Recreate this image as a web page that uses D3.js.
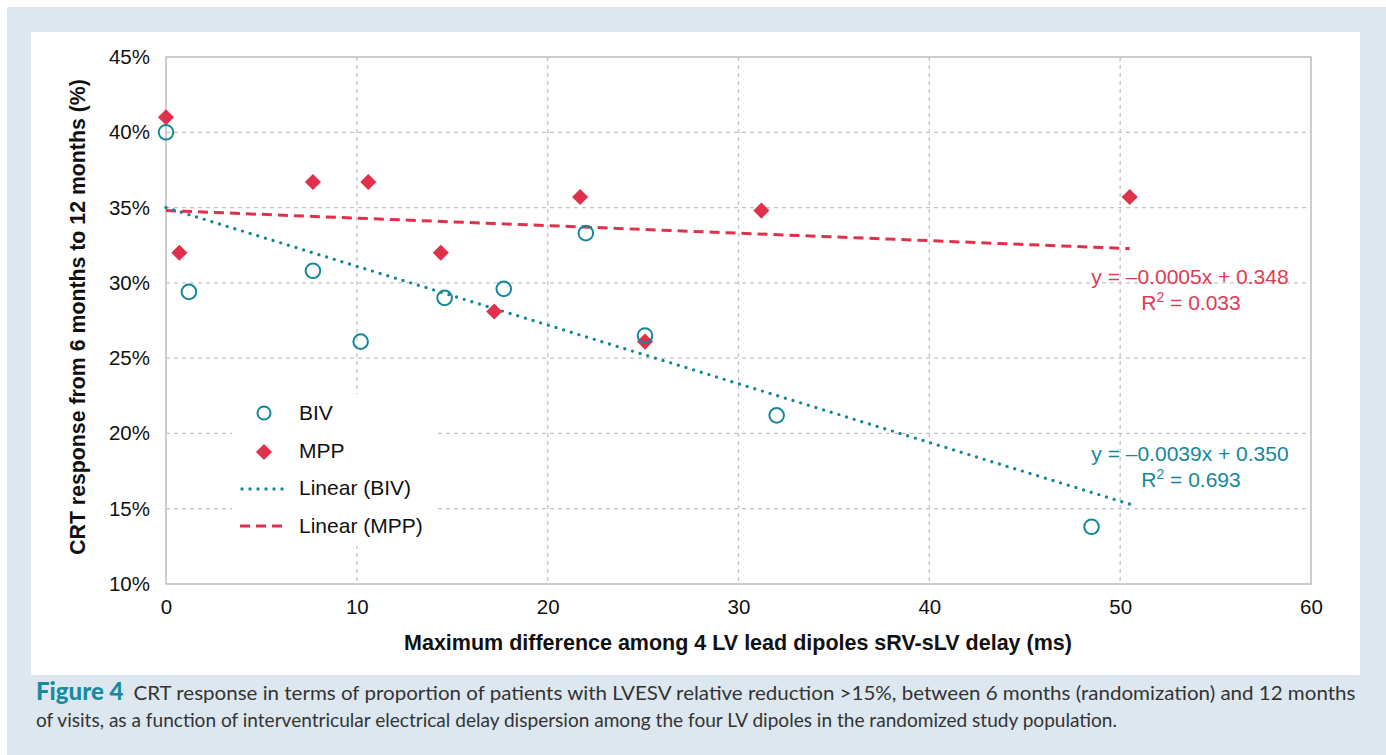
<!DOCTYPE html>
<html>
<head>
<meta charset="utf-8">
<script src="https://cdn.jsdelivr.net/npm/d3@7"></script>
<style>
  body { margin: 0; background: #fff; }
  svg text { font-family: "Liberation Sans", Arial, sans-serif; }
</style>
</head>
<body>
<div id="chart"></div>
<script>
// Data (x = ms, y = proportion)
const bivX = [0, 1.2, 7.7, 10.2, 14.6, 17.7, 22.0, 25.1, 32.0, 48.5];
const bivY = [0.400, 0.294, 0.308, 0.261, 0.290, 0.296, 0.333, 0.265, 0.212, 0.138];
const mppX = [0, 0.7, 7.7, 10.6, 14.4, 17.2, 21.7, 25.1, 31.2, 50.5];
const mppY = [0.410, 0.320, 0.367, 0.367, 0.320, 0.281, 0.357, 0.261, 0.348, 0.357];

// Linear fits as printed on the figure: [slope, intercept, r2]
const bivFit = [-0.0039, 0.350, 0.693];
const mppFit = [-0.0005, 0.348, 0.033];

const xTicks = [0, 10, 20, 30, 40, 50, 60];
const yTicks = [0.10, 0.15, 0.20, 0.25, 0.30, 0.35, 0.40, 0.45];

const teal = '#14889a';
const red = '#e1304b';

const W = 1386, H = 755;
const svg = d3.select('#chart').append('svg')
  .attr('width', W).attr('height', H);

// frame
svg.append('rect').attr('x', 7).attr('y', 7).attr('width', W - 7).attr('height', H - 7)
  .attr('fill', '#dde7f0');
svg.append('rect').attr('x', 31).attr('y', 32).attr('width', 1329).attr('height', 643)
  .attr('fill', '#fff');

const x = d3.scaleLinear().domain([0, 60]).range([166, 1311]);
const y = d3.scaleLinear().domain([0.10, 0.45]).range([584, 57]);

// gridlines
svg.append('g').selectAll('line').data(xTicks.slice(1, -1)).join('line')
  .attr('x1', d => x(d)).attr('x2', d => x(d))
  .attr('y1', y(0.45)).attr('y2', y(0.10))
  .attr('stroke', '#c4c4c4').attr('stroke-width', 1.3).attr('stroke-dasharray', '4,4');
svg.append('g').selectAll('line').data(yTicks.slice(1, -1)).join('line')
  .attr('x1', x(0)).attr('x2', x(60))
  .attr('y1', d => y(d)).attr('y2', d => y(d))
  .attr('stroke', '#c4c4c4').attr('stroke-width', 1.3).attr('stroke-dasharray', '4,4');

// plot border
svg.append('rect').attr('x', x(0)).attr('y', y(0.45))
  .attr('width', x(60) - x(0)).attr('height', y(0.10) - y(0.45))
  .attr('fill', 'none').attr('stroke', '#bdbdbd').attr('stroke-width', 1.5);

// axes (labels only)
const yAxis = svg.append('g').attr('transform', `translate(${x(0)},0)`)
  .call(d3.axisLeft(y).tickValues(yTicks).tickFormat(d3.format('.0%')).tickSize(0).tickPadding(16));
const xAxis = svg.append('g').attr('transform', `translate(0,${y(0.10)})`)
  .call(d3.axisBottom(x).tickValues(xTicks).tickSize(0).tickPadding(15));
[xAxis, yAxis].forEach(a => {
  a.select('.domain').remove();
  a.selectAll('text').attr('font-size', 20.5).attr('fill', '#111')
    .attr('font-family', '"Liberation Sans", Arial, sans-serif');
});

// axis titles
svg.append('text').attr('x', 738).attr('y', 650).attr('text-anchor', 'middle')
  .attr('font-size', 21.5).attr('font-weight', 'bold').attr('fill', '#111')
  .text('Maximum difference among 4 LV lead dipoles sRV-sLV delay (ms)');
svg.append('text').attr('transform', 'translate(85,317) rotate(-90)').attr('text-anchor', 'middle')
  .attr('font-size', 21.3).attr('font-weight', 'bold').attr('fill', '#111')
  .text('CRT response from 6 months to 12 months (%)');

// trendlines
function fitLine(fit, xs) {
  const x0 = 0, x1 = d3.max(xs);
  return [[x0, fit[0] * x0 + fit[1]], [x1, fit[0] * x1 + fit[1]]];
}
const line = d3.line().x(d => x(d[0])).y(d => y(d[1]));
svg.append('path').attr('d', line(fitLine(mppFit, mppX)))
  .attr('fill', 'none').attr('stroke', red).attr('stroke-width', 3).attr('stroke-dasharray', '10,6');
svg.append('path').attr('d', line(fitLine(bivFit, mppX)))
  .attr('fill', 'none').attr('stroke', teal).attr('stroke-width', 3.4)
  .attr('stroke-linecap', 'round').attr('stroke-dasharray', '0,8');

// points
const diamond = d3.symbol().type(d3.symbolSquare).size(130);
svg.append('g').selectAll('path').data(mppX.map((v, i) => [v, mppY[i]])).join('path')
  .attr('d', diamond)
  .attr('transform', d => `translate(${x(d[0])},${y(d[1])}) rotate(45)`)
  .attr('fill', red);
svg.append('g').selectAll('circle').data(bivX.map((v, i) => [v, bivY[i]])).join('circle')
  .attr('cx', d => x(d[0])).attr('cy', d => y(d[1])).attr('r', 7.3)
  .attr('fill', 'none').attr('stroke', teal).attr('stroke-width', 2);

// equations
function eqText(fit, cx, cy, color) {
  const g = svg.append('g').attr('fill', color).attr('font-size', 21);
  const sign = fit[0] < 0 ? '\u2013' : '';
  g.append('text').attr('x', cx).attr('y', cy).attr('text-anchor', 'middle')
    .text(`y = ${sign}${Math.abs(fit[0]).toFixed(4)}x + ${fit[1].toFixed(3)}`);
  const t = g.append('text').attr('x', cx + 1).attr('y', cy + 26).attr('text-anchor', 'middle');
  t.append('tspan').text('R');
  t.append('tspan').attr('font-size', 14).attr('dy', -8).text('2');
  t.append('tspan').attr('dy', 8).text(` = ${fit[2].toFixed(3)}`);
}
eqText(mppFit, 1190, 284, '#e23a52');
eqText(bivFit, 1190, 461, teal);

// legend
const lg = svg.append('g');
lg.append('rect').attr('x', 232).attr('y', 394).attr('width', 203).attr('height', 152).attr('fill', '#fff');
lg.append('circle').attr('cx', 264).attr('cy', 413).attr('r', 6.5)
  .attr('fill', 'none').attr('stroke', teal).attr('stroke-width', 2);
lg.append('path').attr('d', diamond).attr('transform', 'translate(264,452) rotate(45)').attr('fill', red);
lg.append('line').attr('x1', 242).attr('x2', 288).attr('y1', 489).attr('y2', 489)
  .attr('stroke', teal).attr('stroke-width', 3.4).attr('stroke-linecap', 'round').attr('stroke-dasharray', '0,8');
lg.append('line').attr('x1', 240).attr('x2', 288).attr('y1', 526).attr('y2', 526)
  .attr('stroke', red).attr('stroke-width', 3).attr('stroke-dasharray', '10,6');
['BIV', 'MPP', 'Linear (BIV)', 'Linear (MPP)'].forEach((s, i) => {
  lg.append('text').attr('x', 299).attr('y', 420 + i * 37.5).attr('font-size', 21).attr('fill', '#111').text(s);
});

// caption
const l1 = svg.append('text').attr('x', 36).attr('y', 700).attr('font-size', 20).attr('fill', '#333')
  .style('font-family', 'Lato, sans-serif');
l1.append('tspan').attr('fill', '#1a8a9c').attr('font-weight', 900).attr('font-size', 24).text('Figure 4');
l1.append('tspan').attr('dx', 10).attr('textLength', 1222).attr('lengthAdjust', 'spacingAndGlyphs')
  .text('CRT response in terms of proportion of patients with LVESV relative reduction >15%, between 6 months (randomization) and 12 months');
svg.append('text').attr('x', 36).attr('y', 727).attr('font-size', 20).attr('fill', '#333')
  .attr('textLength', 1081).attr('lengthAdjust', 'spacingAndGlyphs')
  .style('font-family', 'Lato, sans-serif')
  .text('of visits, as a function of interventricular electrical delay dispersion among the four LV dipoles in the randomized study population.');
</script>
</body>
</html>
